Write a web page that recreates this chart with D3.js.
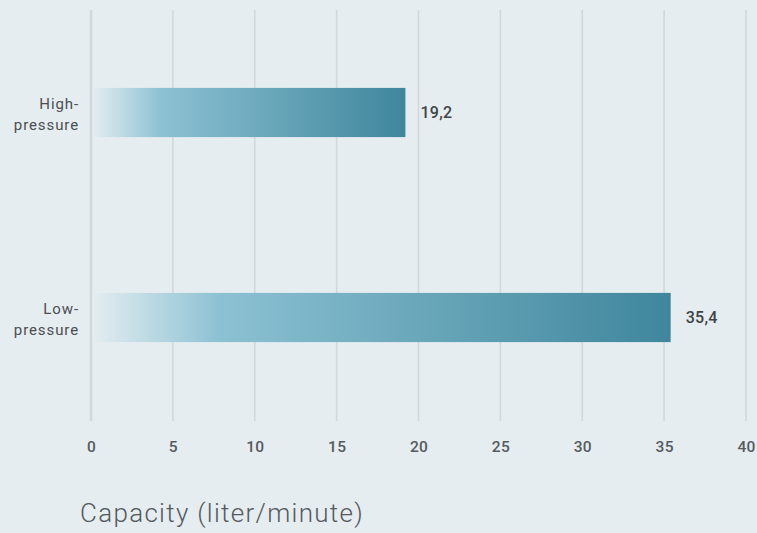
<!DOCTYPE html>
<html>
<head>
<meta charset="utf-8">
<script src="https://cdn.jsdelivr.net/npm/d3@7"></script>
<style>
  html, body { margin: 0; padding: 0; background: #e6edf0; }
  svg { display: block; }
</style>
</head>
<body>
<svg id="chart" width="757" height="533"></svg>
<script>
// Pump capacity by type
const categories = ["High-pressure", "Low-pressure"];
const categoryLines = [["High-", "pressure"], ["Low-", "pressure"]];
const values = [19.2, 35.4];
const valueLabels = ["19,2", "35,4"];
const tickValues = [0, 5, 10, 15, 20, 25, 30, 35, 40];
const axisTitle = "Capacity (liter/minute)";

const svg = d3.select("#chart");
const W = 757, H = 533;
const margin = { left: 91, right: 11 };

const x = d3.scaleLinear().domain([0, 40]).range([margin.left, W - margin.right]);
const y = d3.scaleBand().domain(categories).range([10, 420]).paddingInner(0.76).paddingOuter(0.38);

// gradient for bars: pale at the base, teal at the tip
const defs = svg.append("defs");
const grad = defs.append("linearGradient").attr("id", "barGrad")
  .attr("x1", "0%").attr("x2", "100%").attr("y1", "0%").attr("y2", "0%");
grad.append("stop").attr("offset", "0%").attr("stop-color", "#e4edf1");
grad.append("stop").attr("offset", "22%").attr("stop-color", "#8cc1d3");
grad.append("stop").attr("offset", "100%").attr("stop-color", "#3f869c");

// vertical grid
const grid = svg.append("g");
grid.selectAll("line").data(tickValues).join("line")
  .attr("x1", d => x(d)).attr("x2", d => x(d))
  .attr("y1", 10).attr("y2", 421)
  .attr("stroke", "#d3d7d9")
  .attr("stroke-width", d => d === 0 ? 2.5 : 1.6);

// x axis tick labels
const axis = d3.axisBottom(x).tickValues(tickValues).tickSize(0).tickPadding(0).tickFormat(d3.format("d"));
const ax = svg.append("g").attr("transform", "translate(0,441)").call(axis);
ax.select(".domain").remove();
ax.selectAll("text")
  .attr("font-family", "Roboto, sans-serif")
  .attr("font-size", 15.5)
  .attr("font-weight", 500)
  .attr("letter-spacing", 0.3)
  .attr("fill", "#555a5e");

// bars
svg.append("g").selectAll("rect").data(values).join("rect")
  .attr("x", x(0) + 1.5)
  .attr("y", (d, i) => y(categories[i]))
  .attr("width", d => x(d) - x(0) - 1.5)
  .attr("height", y.bandwidth())
  .attr("fill", "url(#barGrad)");

// value labels
svg.append("g").selectAll("text").data(values).join("text")
  .attr("x", d => x(d) + 15)
  .attr("y", (d, i) => y(categories[i]) + y.bandwidth() / 2 + 5.5)
  .attr("font-family", "Roboto, sans-serif")
  .attr("font-size", 16)
  .attr("font-weight", 500)
  .attr("letter-spacing", 0.3)
  .attr("fill", "#3f4346")
  .text((d, i) => valueLabels[i]);

// category labels
const cat = svg.append("g").selectAll("text").data(categories).join("text")
  .attr("text-anchor", "end")
  .attr("font-family", "Roboto, sans-serif")
  .attr("font-size", 15)
  .attr("letter-spacing", 0.9)
  .attr("fill", "#4a4e52");
cat.each(function(d, i) {
  const cy = y(d) + y.bandwidth() / 2;
  d3.select(this).selectAll("tspan").data(categoryLines[i]).join("tspan")
    .attr("x", 79)
    .attr("y", (t, j) => cy - 4 + j * 21)
    .text(t => t);
});

// axis title
svg.append("text")
  .attr("x", 80).attr("y", 522)
  .attr("font-family", "Roboto, sans-serif")
  .attr("font-size", 26)
  .attr("font-weight", 300)
  .attr("letter-spacing", 1.3)
  .attr("fill", "#55595c")
  .text(axisTitle);
</script>
</body>
</html>
